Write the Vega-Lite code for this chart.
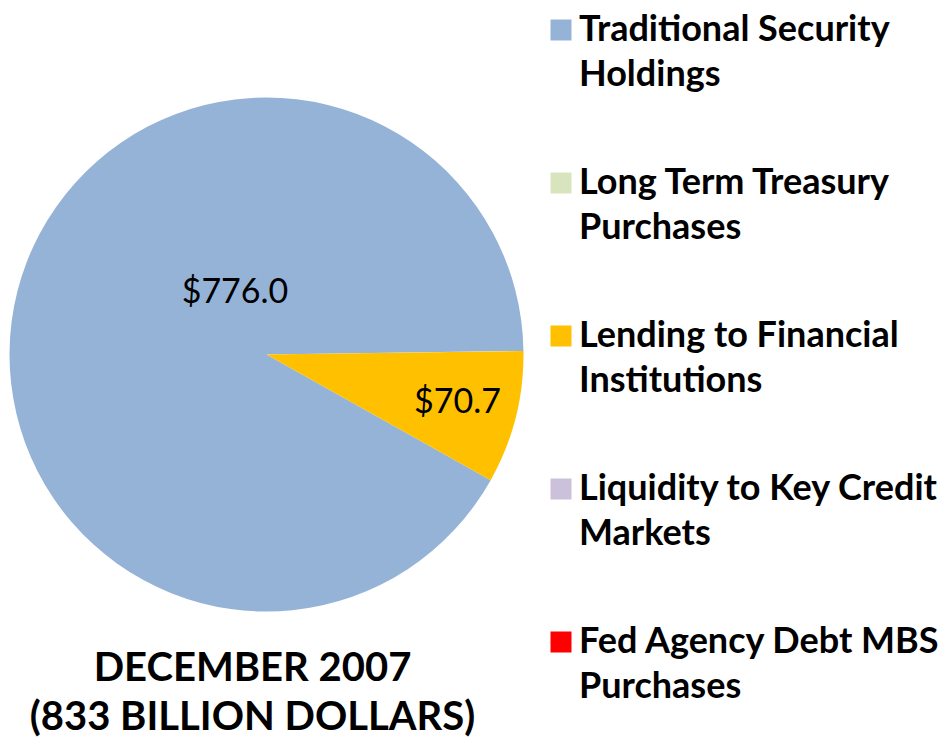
{
  "$schema": "https://vega.github.io/schema/vega-lite/v6.json",
  "width": 533,
  "height": 709,
  "autosize": "none",
  "padding": {"left": 0, "top": 0, "right": 411, "bottom": 31},
  "background": "white",
  "title": {
    "text": ["DECEMBER 2007", "(833 BILLION DOLLARS)"],
    "orient": "bottom",
    "anchor": "middle",
    "frame": "group",
    "offset": -60,
    "dx": -14,
    "font": "Lato",
    "fontWeight": "bold",
    "fontSize": 40,
    "lineHeight": 49,
    "color": "black"
  },
  "data": {
    "values": [
      {"category": "Traditional Security Holdings", "value": 776.0},
      {"category": "Long Term Treasury Purchases", "value": 0},
      {"category": "Lending to Financial Institutions", "value": 70.7},
      {"category": "Liquidity to Key Credit Markets", "value": 0},
      {"category": "Fed Agency Debt MBS Purchases", "value": 0}
    ]
  },
  "encoding": {
    "theta": {"field": "value", "type": "quantitative", "stack": true, "scale": {"range": [1.557, 7.840]}}
  },
  "layer": [
    {
      "mark": {"type": "arc", "outerRadius": 257},
      "encoding": {
        "color": {
          "field": "category",
          "type": "nominal",
          "scale": {
            "domain": ["Traditional Security Holdings", "Long Term Treasury Purchases", "Lending to Financial Institutions", "Liquidity to Key Credit Markets", "Fed Agency Debt MBS Purchases"],
            "range": ["#95B3D7", "#D7E4BD", "#FFC000", "#CCC1DA", "#FF0000"]
          },
          "sort": null,
          "legend": {
            "title": null,
            "orient": "none",
            "legendX": 543,
            "legendY": 12,
            "symbolType": "square",
            "symbolSize": 441,
            "symbolStrokeWidth": 0,
            "labelFont": "Lato",
            "labelFontWeight": "bold",
            "labelFontSize": 36,
            "labelColor": "black",
            "labelLimit": 500,
            "labelOffset": 0,
            "labelBaseline": "middle",
            "rowPadding": 72,
            "labelExpr": "datum.label == 'Traditional Security Holdings' ? ['Traditional Security', 'Holdings'] : datum.label == 'Long Term Treasury Purchases' ? ['Long Term Treasury', 'Purchases'] : datum.label == 'Lending to Financial Institutions' ? ['Lending to Financial', 'Institutions'] : datum.label == 'Liquidity to Key Credit Markets' ? ['Liquidity to Key Credit', 'Markets'] : ['Fed Agency Debt MBS', 'Purchases']"
          }
        }
      }
    },
    {
      "mark": {"type": "text", "radius": 197, "font": "Lato", "fontSize": 34, "align": "center", "baseline": "middle"},
      "encoding": {
        "color": {"value": "black"},
        "text": {"condition": {"test": "datum.category == 'Lending to Financial Institutions'", "field": "value", "type": "quantitative", "format": "$.1f"}, "value": ""}
      }
    },
    {
      "mark": {"type": "text", "radius": 69, "thetaOffset": 0.848, "font": "Lato", "fontSize": 34, "align": "center", "baseline": "middle"},
      "encoding": {
        "color": {"value": "black"},
        "text": {"condition": {"test": "datum.category == 'Traditional Security Holdings'", "field": "value", "type": "quantitative", "format": "$.1f"}, "value": ""}
      }
    }
  ],
  "config": {
    "view": {"stroke": null},
    "style": {"guide-label": {"lineHeight": 45}}
  }
}
